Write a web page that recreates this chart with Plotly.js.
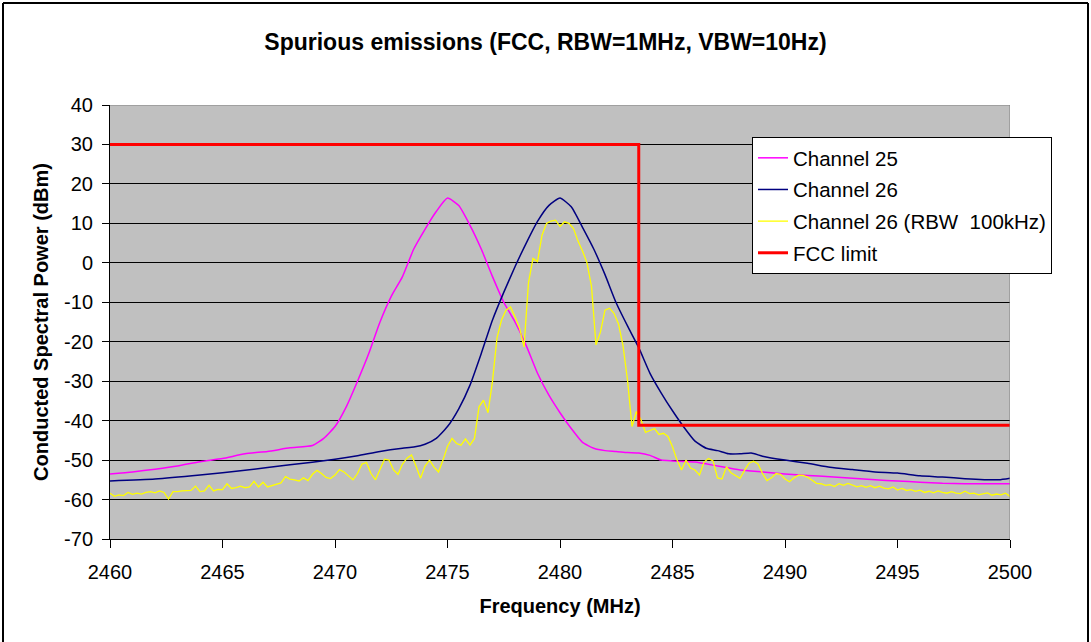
<!DOCTYPE html>
<html>
<head>
<meta charset="utf-8">
<script src="https://cdn.plot.ly/plotly-3.0.1.min.js"></script>
<style>html,body{margin:0;padding:0;background:#fff;}#chart{width:1091px;height:642px;}</style>
</head>
<body>
<div id="chart"></div>
<script>
// ---- Data ----
const ch25Freq = [2460,2461,2462,2463,2464,2465,2466,2467,2468,2469,2469.5,2470,2470.5,2471,2471.5,2472,2472.5,2473,2473.5,2474,2474.5,2475,2475.5,2476,2476.5,2477,2477.5,2478,2478.5,2479,2479.5,2480,2480.5,2481,2481.5,2482,2482.5,2483,2483.5,2484,2484.5,2485,2486,2487,2488,2489,2490,2491,2492,2493,2494,2495,2496,2497,2498,2500];
const ch25Power = [-53.5,-53.0,-52.3,-51.5,-50.4,-49.6,-48.4,-47.8,-46.9,-46.3,-44.5,-41.5,-36.5,-30.0,-23.0,-15.0,-8.5,-3.5,3.5,8.5,13.0,16.4,14.5,9.5,3.5,-3.5,-10.0,-15.0,-21.0,-28.0,-33.5,-38.0,-42.0,-45.5,-47.0,-47.6,-47.8,-48.1,-48.2,-48.8,-50.0,-50.2,-50.5,-51.5,-52.5,-53.0,-53.5,-53.9,-54.2,-54.6,-55.0,-55.3,-55.6,-55.9,-56.0,-56.0];

const ch26Freq = [2460,2462,2464,2466,2468,2470,2471,2472,2473,2473.5,2474,2474.5,2475,2475.5,2476,2476.5,2477,2477.5,2478,2478.5,2479,2479.5,2480,2480.5,2481,2481.5,2482,2482.5,2483,2483.5,2484,2484.5,2485,2485.5,2486,2486.5,2487,2487.5,2488,2488.5,2489,2490,2491,2492,2493,2494,2495,2496,2497,2498,2499.5,2500];
const ch26Power = [-55.3,-54.8,-53.8,-52.6,-51.2,-49.8,-48.9,-47.8,-47.0,-46.7,-46.0,-44.5,-41.5,-37.0,-31.0,-23.0,-14.5,-7.5,-1.0,5.0,10.5,14.5,16.4,14.2,9.0,3.5,-3.0,-10.2,-16.0,-21.5,-28.0,-33.0,-37.5,-41.6,-45.2,-47.0,-47.6,-48.4,-48.4,-48.2,-49.0,-50.0,-50.8,-51.8,-52.4,-53.0,-53.3,-54.0,-54.3,-54.7,-55.0,-54.6];

// Channel 26 measured with RBW 100 kHz: sampled every 0.2 MHz from 2460 MHz
const ch26nbStartMHz = 2460;
const ch26nbStepMHz = 0.2;
const ch26nbPower = [
 -58.4,-59.2,-58.8,-59.0,-58.2,-58.7,-58.4,-58.6,-58.2,-58.0,-58.3,-57.8,-58.2,-59.9,-58.0,
 -58.0,-57.8,-57.8,-57.7,-56.6,-58.0,-57.8,-56.4,-57.8,-57.4,-57.5,-56.0,-57.2,-57.0,-56.6,
 -57.0,-56.8,-55.4,-56.8,-55.6,-56.8,-56.5,-56.2,-55.8,-54.2,-54.8,-55.0,-55.3,-54.5,-55.2,
 -53.6,-52.6,-53.4,-54.4,-54.7,-53.8,-52.4,-53.0,-54.0,-55.0,-53.4,-51.0,-50.6,-53.4,-55.0,
 -52.5,-49.8,-50.0,-52.5,-53.6,-51.0,-49.5,-48.7,-51.5,-54.6,-51.5,-50.0,-51.8,-53.0,-50.0,
 -46.5,-44.5,-45.8,-46.2,-44.6,-46.2,-44.5,-36.5,-34.8,-38.0,-30.0,-19.0,-14.5,-12.0,-11.2,
 -13.7,-16.5,-21.3,-5.0,1.1,0.3,7.0,10.0,10.6,10.8,9.2,10.4,10.0,8.7,5.5,
 3.0,0.0,-6.0,-20.8,-17.5,-12.0,-11.5,-12.8,-15.5,-21.0,-29.7,-41.5,-37.7,-39.8,-43.0,
 -42.5,-42.0,-43.5,-43.2,-44.0,-46.6,-50.0,-52.5,-50.0,-52.0,-52.5,-53.8,-50.5,-49.6,-50.2,
 -54.5,-54.8,-51.7,-53.2,-53.8,-54.6,-52.6,-50.8,-50.3,-51.0,-53.4,-55.2,-54.5,-53.4,-53.6,
 -54.8,-55.5,-54.5,-53.8,-53.9,-54.3,-55.2,-55.9,-56.0,-56.4,-56.2,-56.7,-56.0,-56.4,-55.9,
 -56.3,-56.8,-56.5,-56.9,-56.5,-57.0,-56.6,-57.1,-57.3,-56.8,-57.6,-57.2,-57.7,-57.5,-57.9,
 -57.6,-58.2,-57.9,-58.3,-57.8,-58.2,-58.4,-58.0,-58.4,-58.5,-57.9,-58.5,-58.4,-58.8,-58.6,
 -58.3,-58.9,-58.6,-58.8,-58.4,-59.2
];
const ch26nbFreq = ch26nbPower.map((_, i) => +(ch26nbStartMHz + i * ch26nbStepMHz).toFixed(1));

const fccFreq = [2460, 2483.5, 2483.5, 2500];
const fccLimit = [30, 30, -41.2, -41.2];

const seriesNames = ["Channel 25", "Channel 26", "Channel 26 (RBW  100kHz)", "FCC limit"];
const xTicks = [2460, 2465, 2470, 2475, 2480, 2485, 2490, 2495, 2500];
const yTicks = [-70, -60, -50, -40, -30, -20, -10, 0, 10, 20, 30, 40];

// ---- Chart ----
const FONT = "Liberation Sans, Arial, Helvetica, sans-serif";
const traces = [
  {x: ch25Freq, y: ch25Power, name: seriesNames[0], mode: "lines", line: {color: "#FF00FF", width: 1.5, shape: "spline", smoothing: 0.5}, legendgroup: "a"},
  {x: ch26Freq, y: ch26Power, name: seriesNames[1], mode: "lines", line: {color: "#000080", width: 1.5, shape: "spline", smoothing: 0.5}, legendgroup: "b"},
  {x: ch26nbFreq, y: ch26nbPower, name: seriesNames[2], mode: "lines", line: {color: "#FFFF00", width: 1.3}, legendgroup: "c"},
  {x: fccFreq, y: fccLimit, name: seriesNames[3], mode: "lines", line: {color: "#FF0000", width: 3}, legendgroup: "d"}
];

const L = 110, R = 1010, T = 105, B = 539;
const px2x = p => (p - L) / (R - L);
const py2y = p => (B - p) / (B - T);

const layout = {
  width: 1091, height: 642,
  margin: {l: L, r: 1091 - R, t: T, b: 642 - B, pad: 0},
  paper_bgcolor: "#FFFFFF",
  plot_bgcolor: "#C0C0C0",
  font: {family: FONT, color: "#000000", size: 20},
  title: {text: "<b>Spurious emissions (FCC, RBW=1MHz, VBW=10Hz)</b>", font: {family: FONT, size: 23, color: "#000"},
          x: 0.5, xref: "container", xanchor: "center", y: 1 - 42 / 642, yref: "container", yanchor: "middle"},
  xaxis: {
    range: [2460, 2500], tickvals: xTicks, ticktext: xTicks.map(String),
    showgrid: false, zeroline: false, showline: true, linecolor: "#000", linewidth: 1,
    ticks: "outside", ticklen: 8, tickcolor: "#000", tickwidth: 1, ticklabelstandoff: 7,
    tickfont: {family: FONT, size: 20, color: "#000"},
    title: {text: "<b>Frequency (MHz)</b>", font: {family: FONT, size: 20, color: "#000"}, standoff: 16},
    fixedrange: true
  },
  yaxis: {
    range: [-70, 40], tickvals: yTicks, ticktext: yTicks.map(String),
    showgrid: true, gridcolor: "#000", gridwidth: 1, zeroline: false,
    showline: true, linecolor: "#000", linewidth: 1,
    ticks: "outside", ticklen: 7, tickcolor: "#000", tickwidth: 1, ticklabelstandoff: 5,
    tickfont: {family: FONT, size: 20, color: "#000"},
    title: {text: "<b>Conducted Spectral Power (dBm)</b>", font: {family: FONT, size: 20, color: "#000"}, standoff: 10},
    fixedrange: true
  },
  showlegend: true,
  legend: {
    x: px2x(752), y: py2y(137), xanchor: "left", yanchor: "top",
    bgcolor: "#FFFFFF", bordercolor: "#000", borderwidth: 1,
    font: {family: FONT, size: 20.5, color: "#000"},
    traceorder: "grouped", tracegroupgap: 2
  },
  shapes: [
    // plot-area border (top and right, grey)
    {type: "line", xref: "x", yref: "y", x0: 2460, x1: 2500, y0: 40, y1: 40, line: {color: "#808080", width: 1}, layer: "above"},
    {type: "line", xref: "x", yref: "y", x0: 2500, x1: 2500, y0: -70, y1: 40, line: {color: "#808080", width: 1}, layer: "above"},
    // outer chart border
    {type: "line", xref: "paper", yref: "paper", x0: px2x(3), x1: px2x(3), y0: py2y(3), y1: py2y(660), line: {color: "#000", width: 2}},
    {type: "line", xref: "paper", yref: "paper", x0: px2x(3), x1: px2x(1088), y0: py2y(3), y1: py2y(3), line: {color: "#000", width: 2}},
    {type: "line", xref: "paper", yref: "paper", x0: px2x(1088), x1: px2x(1088), y0: py2y(3), y1: py2y(660), line: {color: "#000", width: 2}}
  ],
  hovermode: false
};

Plotly.newPlot("chart", traces, layout, {displayModeBar: false, staticPlot: true});
</script>
</body>
</html>
